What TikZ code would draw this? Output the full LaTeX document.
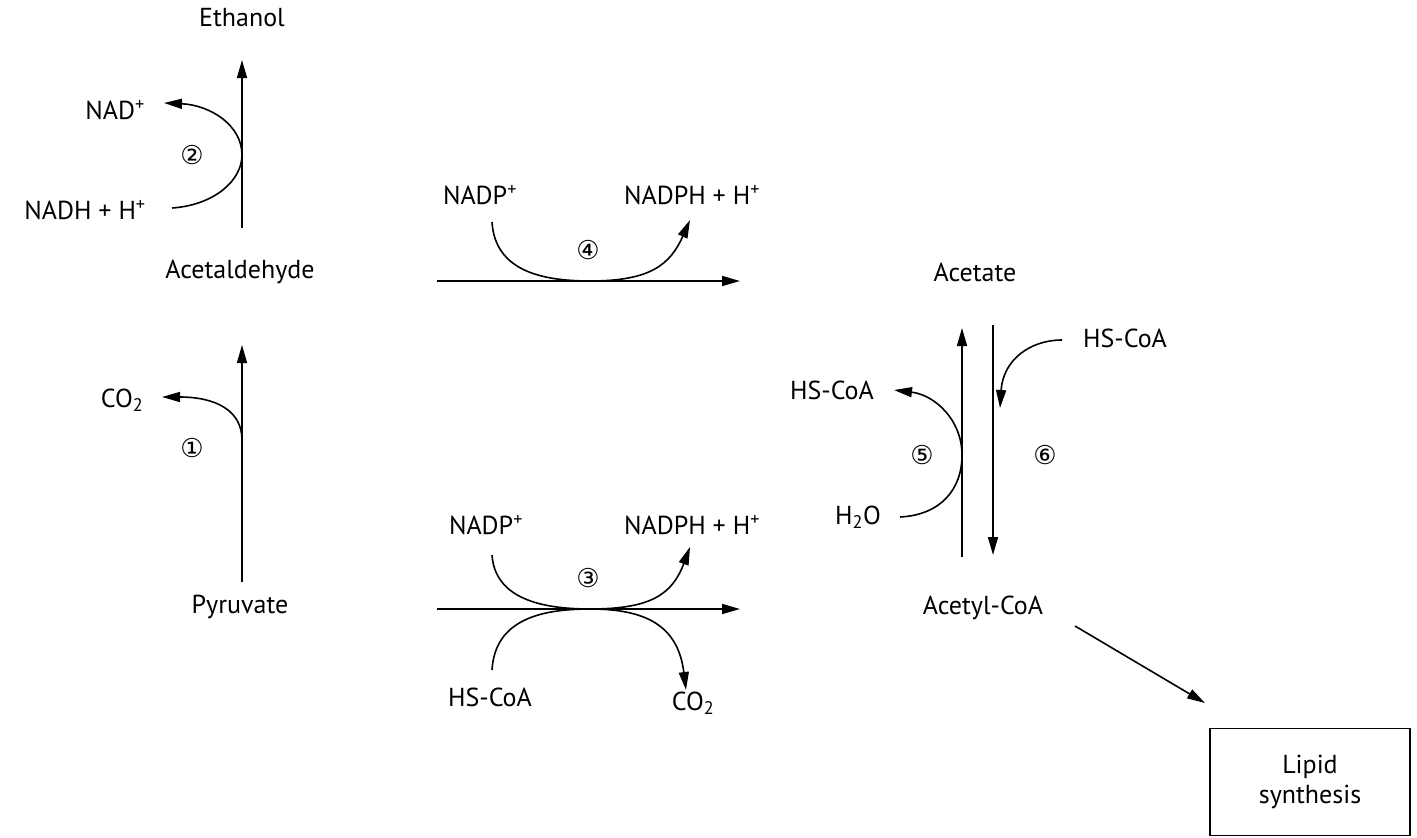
\documentclass[tikz,border=0pt]{standalone}
\usepackage{fontspec}
\setmainfont{PT Sans}
\newfontfamily\circfont{DejaVu Sans}
\usetikzlibrary{arrows.meta}
\begin{document}
\begin{tikzpicture}[x=1pt,y=-1pt,
  lbl/.style={font=\fontsize{26}{30}\selectfont, inner sep=0pt},
  num/.style={font=\circfont\fontsize{26}{30}\selectfont, inner sep=0pt},
  arr/.style={line width=1.6pt,-{Triangle[length=18pt,width=10pt]}},
  ln/.style={line width=1.6pt}]
\useasboundingbox (0,0) rectangle (1417,838);
% left column
\node[lbl] (eth) at (242,18) {Ethanol};
\node[lbl] (ald) at (240,272) {Acetaldehyde};
\node[lbl] (pyr) at (240,607) {Pyruvate};
\coordinate (a1) at (242,228); \coordinate (a2) at (242,60);
\draw[arr] (a1) -- (a2);
\node[lbl] (nad) at (115,110) {NAD\textsuperscript{+}};
\node[lbl] (nadh) at (85,210) {NADH + H\textsuperscript{+}};
\node[num] (n2) at (192,155) {②};
\coordinate (c1) at (172,208); \coordinate (c2) at (242,155); \coordinate (c3) at (164,103);
\draw[arr] (c1) .. controls (215,205) and (242,180) .. (c2) .. controls (242,125) and (210,105) .. (c3);
\coordinate (b1) at (242,582); \coordinate (b2) at (242,345);
\draw[arr] (b1) -- (b2);
\node[lbl] (co2a) at (122,400) {CO\textsubscript{2}};
\node[num] (n1) at (192,448) {①};
\coordinate (d1) at (242,440); \coordinate (d2) at (162,397);
\draw[arr] (d1) .. controls (242,410) and (215,397) .. (d2);
% top horizontal
\coordinate (h1) at (437,281); \coordinate (h2) at (740,281);
\draw[arr] (h1) -- (h2);
\node[lbl] (nadp4) at (480,195) {NADP\textsuperscript{+}};
\node[lbl] (nadph4) at (692,195) {NADPH + H\textsuperscript{+}};
\node[num] (n4) at (588,250) {④};
\coordinate (e1) at (492,222); \coordinate (e2) at (590,281); \coordinate (e3) at (690,220);
\draw[arr] (e1) .. controls (495,270) and (540,281) .. (e2) .. controls (650,281) and (670,265) .. (e3);
% bottom horizontal
\coordinate (g1) at (437,609); \coordinate (g2) at (740,609);
\draw[arr] (g1) -- (g2);
\node[lbl] (nadp3) at (486,525) {NADP\textsuperscript{+}};
\node[lbl] (nadph3) at (692,525) {NADPH + H\textsuperscript{+}};
\node[num] (n3) at (588,578) {③};
\node[lbl] (hs3) at (490,697) {HS-CoA};
\node[lbl] (co23) at (693,703) {CO\textsubscript{2}};
\coordinate (f1) at (492,555); \coordinate (f2) at (590,609); \coordinate (f3) at (690,547);
\draw[arr] (f1) .. controls (495,598) and (540,609) .. (f2) .. controls (650,609) and (672,595) .. (f3);
\coordinate (k1) at (492,670); \coordinate (k3) at (686,690);
\draw[arr] (k1) .. controls (495,620) and (540,609) .. (f2) .. controls (645,609) and (678,625) .. (k3);
% right
\node[lbl] (acet) at (975,272) {Acetate};
\node[lbl] (acoa) at (983,608) {Acetyl-CoA};
\coordinate (u1) at (962,557); \coordinate (u2) at (962,328);
\draw[arr] (u1) -- (u2);
\coordinate (v1) at (993,325); \coordinate (v2) at (993,555);
\draw[arr] (v1) -- (v2);
\node[lbl] (hs5) at (832,390) {HS-CoA};
\node[lbl] (h2o) at (858,517) {H\textsubscript{2}O};
\node[num] (n5) at (922,455) {⑤};
\coordinate (p1) at (900,517); \coordinate (p2) at (962,455); \coordinate (p3) at (894,390);
\draw[arr] (p1) .. controls (940,515) and (962,490) .. (p2) .. controls (962,420) and (935,395) .. (p3);
\node[lbl] (hs6) at (1125,338) {HS-CoA};
\node[num] (n6) at (1045,455) {⑥};
\coordinate (q1) at (1062,340); \coordinate (q2) at (1000,408);
\draw[arr] (q1) .. controls (1030,340) and (1003,360) .. (q2);
\node[lbl, draw, line width=1.6pt, minimum width=200pt, minimum height=107pt, align=center] (lip) at (1310,782) {Lipid\\synthesis};
\coordinate (r1) at (1075,626); \coordinate (r2) at (1205,703);
\draw[arr] (r1) -- (r2);
\end{tikzpicture}
\end{document}
